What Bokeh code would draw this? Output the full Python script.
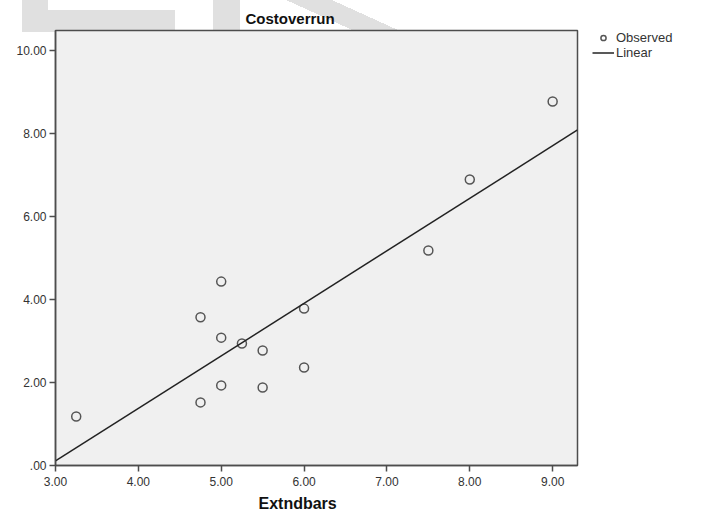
import numpy as np
from bokeh.plotting import figure
from bokeh.layouts import row
from bokeh.models import Range1d, FixedTicker, Legend, LegendItem, Title
from bokeh.embed import file_html
from bokeh.resources import INLINE

# ---- data ----
extndbars = [3.25, 4.75, 4.75, 5.00, 5.00, 5.00, 5.25, 5.50, 5.50, 6.00, 6.00, 7.50, 8.00, 9.00]
costoverrun = [1.18, 1.52, 3.57, 4.43, 3.08, 1.93, 2.94, 2.77, 1.88, 3.78, 2.36, 5.18, 6.89, 8.77]

x_ticks = [3, 4, 5, 6, 7, 8, 9]
x_tick_labels = ["3.00", "4.00", "5.00", "6.00", "7.00", "8.00", "9.00"]
y_ticks = [0, 2, 4, 6, 8, 10]
y_tick_labels = [".00", "2.00", "4.00", "6.00", "8.00", "10.00"]
legend_labels = ["Observed", "Linear"]

x_lo, x_hi = 3.0, 9.3
y_lo, y_hi = 0.0, 10.48

# linear fit from the observed points
slope, intercept = np.polyfit(extndbars, costoverrun, 1)
fit_x = [x_lo, x_hi]
fit_y = [intercept + slope * v for v in fit_x]

FONT = "Liberation Sans"
DARK = "#4d4d4d"
WM = "#e0e0e0"
PT_STYLE = dict(marker="circle", size=9, fill_color=None, line_color="#555555", line_width=1.5)
LN_STYLE = dict(line_color="#222222", line_width=1.5)

# faint watermark behind the top border (pure decoration, via CSS backgrounds)
wm_styles = {
    "background-image": ", ".join([
        f"linear-gradient({WM}, {WM})",
        f"linear-gradient({WM}, {WM})",
        f"linear-gradient({WM}, {WM})",
        f"linear-gradient(24.4deg, transparent 29.6px, {WM} 29.6px, {WM} 48.5px, transparent 48.5px)",
    ]),
    "background-size": "26px 32px, 127px 22px, 27px 32px, 120px 32px",
    "background-position": "22px 0px, 48px 10px, 213px 0px, 285px 0px",
    "background-repeat": "no-repeat",
}

p = figure(frame_width=522, frame_height=435,
           x_range=Range1d(x_lo, x_hi), y_range=Range1d(y_lo, y_hi),
           output_backend="svg", toolbar_location=None,
           min_border_left=55, min_border_right=2,
           min_border_top=30, min_border_bottom=51,
           styles=wm_styles)

p.background_fill_color = "#f0f0f0"
p.border_fill_color = None
p.grid.visible = False
p.outline_line_color = DARK
p.outline_line_width = 1.5

p.scatter(extndbars, costoverrun, **PT_STYLE)
p.line(fit_x, fit_y, **LN_STYLE)

for ax, ticks, labels in [(p.xaxis[0], x_ticks, x_tick_labels),
                          (p.yaxis[0], y_ticks, y_tick_labels)]:
    ax.ticker = FixedTicker(ticks=ticks)
    ax.major_label_overrides = {t: l for t, l in zip(ticks, labels)}
    ax.axis_line_color = DARK
    ax.axis_line_width = 1.5
    ax.major_tick_line_color = DARK
    ax.major_tick_line_width = 1.5
    ax.major_tick_out = 6
    ax.major_tick_in = 0
    ax.minor_tick_line_color = None
    ax.major_label_text_font = FONT
    ax.major_label_text_font_size = "12px"
    ax.major_label_text_color = "#333333"
p.xaxis[0].major_label_standoff = 5
p.yaxis[0].major_label_standoff = 3

p.title = Title(text="Costoverrun", align="left", offset=190,
                text_font=FONT, text_font_size="15px", text_font_style="bold",
                text_color="#111111", standoff=8)

p.add_layout(Title(text="Extndbars", align="left", offset=203,
                   text_font=FONT, text_font_size="16px", text_font_style="bold",
                   text_color="#111111", standoff=8), "below")

# legend panel to the right of the chart (frame aligned with the chart frame)
leg = figure(width=121, height=516, x_range=Range1d(0, 1), y_range=Range1d(0, 1),
             x_axis_type=None, y_axis_type=None,
             output_backend="svg", toolbar_location=None,
             min_border_left=0, min_border_right=0,
             min_border_top=30, min_border_bottom=51)
leg.outline_line_color = None
leg.background_fill_color = None
leg.border_fill_color = None
leg.grid.visible = False
# legend proxies: same data and style, lying outside this panel's range (not visible)
r_pts = leg.scatter(extndbars, costoverrun, **PT_STYLE)
r_line = leg.line(fit_x, fit_y, **LN_STYLE)

legend = Legend(items=[LegendItem(label=legend_labels[0], renderers=[r_pts]),
                       LegendItem(label=legend_labels[1], renderers=[r_line])],
                location=(13, 405), orientation="vertical",
                glyph_width=22, glyph_height=13, label_height=13,
                label_standoff=2, spacing=0, padding=0, margin=0,
                label_text_font=FONT, label_text_font_size="13px",
                label_text_color="#333333",
                border_line_color=None, background_fill_color=None)
leg.add_layout(legend, "center")

open("out.html", "w").write(file_html(row(p, leg), INLINE))
